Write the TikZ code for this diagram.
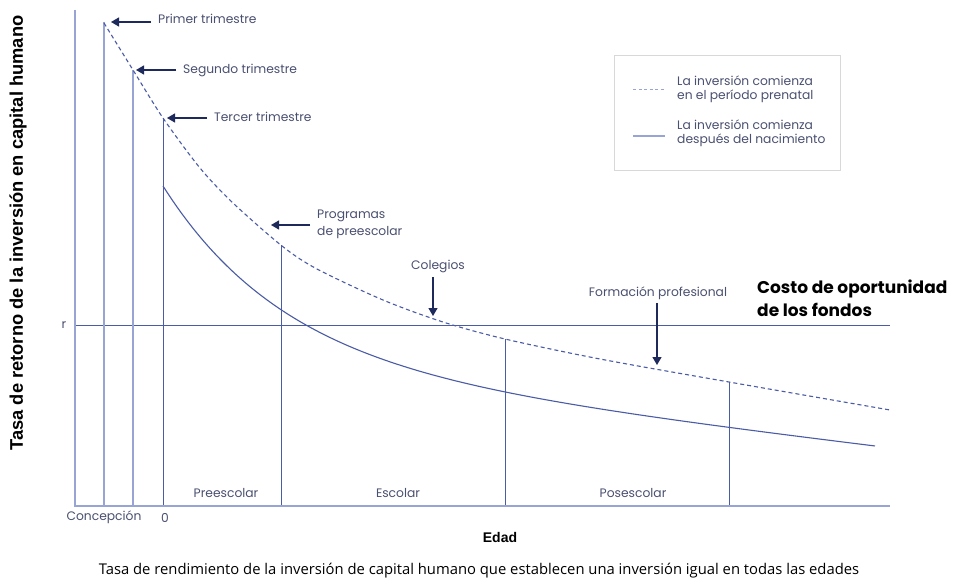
\documentclass[tikz,border=0pt]{standalone}
\usepackage{fontspec}
\setmainfont{Poppins}
\newfontfamily\axisfont{Liberation Sans}
\newfontfamily\capfont{Open Sans}
\usetikzlibrary{arrows.meta}
\definecolor{lineblue}{HTML}{4A5CA6}
\definecolor{axisblue}{HTML}{97A4D4}
\definecolor{txt}{HTML}{4A5070}
\definecolor{navy}{HTML}{1E2A5C}
\definecolor{boxgray}{HTML}{D8D8D8}
\tikzset{
  axisline/.style={draw=axisblue, line width=1.4pt},
  gridline/.style={draw=lineblue, line width=1pt},
  curvedash/.style={draw=lineblue, line width=1.1pt, dash pattern=on 4pt off 3pt},
  curvesolid/.style={draw=lineblue, line width=1.1pt},
  pointer/.style={draw=navy, line width=1.2pt, -{Triangle[length=8pt,width=9pt]}},
  lbl/.style={font=\fontsize{12.3}{15}\selectfont, text=txt, inner sep=0pt},
  bigl/.style={font=\fontsize{17}{23}\selectfont\bfseries, text=black, inner sep=0pt, align=left},
}
\begin{document}
\begin{tikzpicture}[x=1pt,y=-1pt]
\useasboundingbox (0,0) rectangle (955,580);
\fill[white] (0,0) rectangle (955,580);
% axes
\coordinate (ytop) at (75,10);
\coordinate (org) at (75,506);
\coordinate (xend) at (890,506);
% r line
\coordinate (r0) at (75,325);
\coordinate (r1) at (890,325);
\draw[gridline] (r0) -- (r1);
% vertical lines
\foreach \n/\x/\y in {v3/163/118, v4/281/245, v5/505/339, v6/729/382}{
  \coordinate (\n t) at (\x,\y);
  \coordinate (\n b) at (\x,506);
  \draw[gridline] (\n t) -- (\n b);
}
\coordinate (v1t) at (104,22); \coordinate (v1b) at (104,506);
\coordinate (v2t) at (133,70); \coordinate (v2b) at (133,506);
\draw[axisline] (v1t) -- (v1b);
\draw[axisline] (v2t) -- (v2b);
\draw[axisline] (ytop) -- (org) -- (xend);
% curves
\draw[curvedash] plot[smooth, tension=0.5] coordinates {(104,23) (133,70) (163,118) (200,168) (233,203) (282,246) (317,269) (383,300) (443,322) (505,339) (600,359) (729,382) (890,410)};
\draw[curvesolid] plot[domain=0:712, samples=120, smooth] ({163+\x}, {186+175*(1-exp(-\x/120))+0.12*\x});
% pointers
\node[lbl, anchor=west] (pt) at (158,19) {Primer trimestre};
\coordinate (p1) at (111,22);
\draw[pointer] (151,22) -- (p1);
\node[lbl, anchor=west] (st) at (183,70) {Segundo trimestre};
\coordinate (p2) at (136,70);
\draw[pointer] (176,70) -- (p2);
\node[lbl, anchor=west] (tt) at (214,117) {Tercer trimestre};
\coordinate (p3) at (167,118);
\draw[pointer] (207,118) -- (p3);
\node[lbl, anchor=west, align=left, font=\fontsize{12.3}{17}\selectfont] (pp) at (317,224) {Programas\\de preescolar};
\coordinate (p4) at (271,225);
\draw[pointer] (310,225) -- (p4);
\node[lbl] (co) at (438,266) {Colegios};
\coordinate (p5) at (433,316);
\draw[pointer] (433,277) -- (p5);
\node[lbl] (fp) at (658,293) {Formación profesional};
\coordinate (p6) at (657,365);
\draw[pointer] (657,303) -- (p6);
\node[bigl, anchor=west] (cost) at (757,298) {Costo de oportunidad\\de los fondos};
% legend
\node[draw=boxgray, line width=0.9pt, minimum width=226pt, minimum height=115pt, anchor=north west, inner sep=0pt] (leg) at (614,55) {};
\coordinate (l1a) at (633,90);
\coordinate (l1b) at (665,90);
\draw[line width=1pt, dash pattern=on 3pt off 2.5pt, draw=axisblue] (l1a) -- (l1b);
\node[lbl, anchor=west, align=left, font=\fontsize{12.3}{14}\selectfont] (lt1) at (677,89) {La inversión comienza\\en el período prenatal};
\coordinate (l2a) at (633,136);
\coordinate (l2b) at (665,136);
\draw[line width=1.2pt, draw=axisblue] (l2a) -- (l2b);
\node[lbl, anchor=west, align=left, font=\fontsize{12.3}{14}\selectfont] (lt2) at (677,133) {La inversión comienza\\después del nacimiento};
% axis labels
\node[lbl] (rl) at (64,325) {r};
\node[lbl] (conc) at (104,517) {Concepción};
\node[lbl] (zero) at (165,518) {0};
\node[lbl] (pre) at (226,493) {Preescolar};
\node[lbl] (esc) at (398,493) {Escolar};
\node[lbl] (pos) at (633,493) {Posescolar};
\node[font=\axisfont\fontsize{14}{16}\selectfont\bfseries, inner sep=0pt] (edad) at (500,537) {Edad};
\node[font=\axisfont\fontsize{18.3}{20}\selectfont\bfseries, inner sep=0pt, rotate=90] (ylab) at (18,233) {Tasa de retorno de la inversión en capital humano};
\node[font=\capfont\fontsize{14.8}{16}\selectfont, text=black, inner sep=0pt] (cap) at (479,571) {Tasa de rendimiento de la inversión de capital humano que establecen una inversión igual en todas las edades};
\end{tikzpicture}
\end{document}
